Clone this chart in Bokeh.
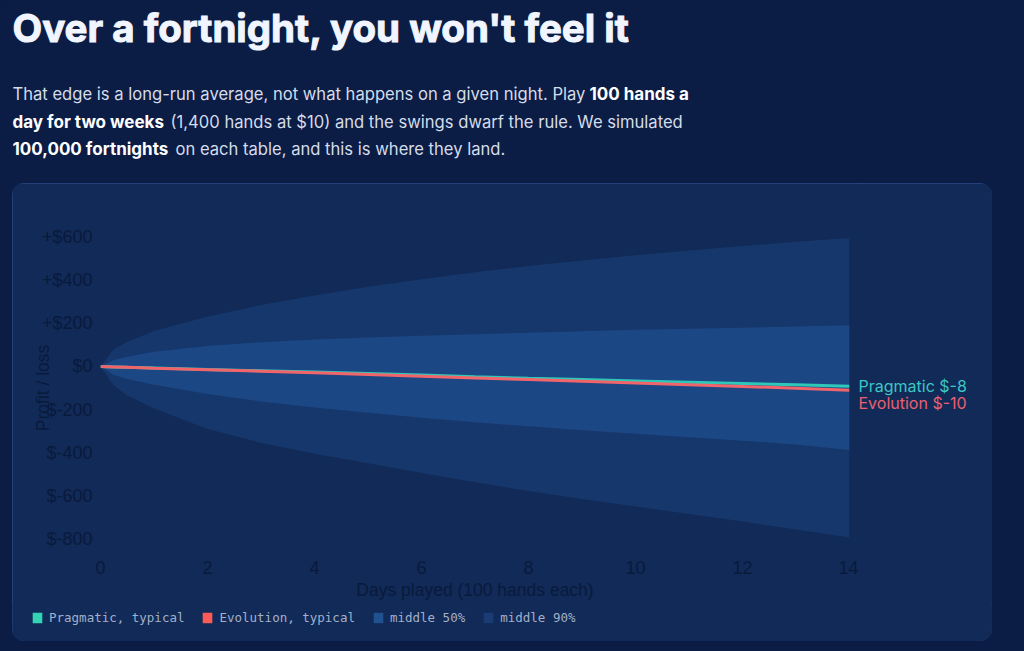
import numpy as np
from bokeh.plotting import figure
from bokeh.models import Range1d, Legend, LegendItem, FixedTicker, ColumnDataSource, Spacer
from bokeh.layouts import column, row
from bokeh.embed import file_html
from bokeh.resources import INLINE
from bokeh.core.properties import value

# ---------------- data ----------------
days = [0, 0.25, 0.5, 1, 2, 3, 4, 5, 6, 7, 8, 9, 10, 11, 12, 13, 14]
upper90 = [0, 80, 115, 165, 232, 285, 330, 370, 405, 438, 466, 492, 516, 538, 559, 579, 597]
upper50 = [0, 30, 45, 68, 95, 113, 125, 135, 143, 150, 157, 163, 170, 175, 180, 186, 191]
lower50 = [0, -40, -58, -85, -128, -163, -190, -215, -238, -259, -278, -296, -313, -329, -345, -362, -388]
lower90 = [0, -90, -135, -195, -290, -355, -405, -450, -495, -538, -578, -615, -650, -685, -720, -757, -794]
pragmatic = [0, -2, -4, -7, -14, -20, -26, -33, -40, -48, -55, -61, -67, -73, -79, -85, -92]
evolution = [0, -2, -4, -8, -15, -22, -29, -37, -45, -53, -61, -69, -77, -85, -93, -101, -110]

end_labels = ["Pragmatic $-8", "Evolution $-10"]
legend_labels = ["Pragmatic, typical", "Evolution, typical", "middle 50%", "middle 90%"]
x_ticks = [0, 2, 4, 6, 8, 10, 12, 14]
y_ticks = [-800, -600, -400, -200, 0, 200, 400, 600]
y_tick_labels = ["$-800", "$-600", "$-400", "$-200", "$0", "+$200", "+$400", "+$600"]

title_text = "Over a fortnight, you won't feel it"
sub_segments = [
    ("That edge is a long-run average, not what happens on a given night. Play", False),
    ("100 hands a", True),
    ("day for two weeks", True),
    ("(1,400 hands at $10) and the swings dwarf the rule. We simulated", False),
    ("100,000 fortnights", True),
    ("on each table, and this is where they land.", False),
]

# ---------------- style ----------------
PAGE_BG = "#0b1d45"
CARD_BG = "#112a57"
BAND90 = "#16376b"
BAND50 = "#1c4785"
SW90 = "#1b3c72"
SW50 = "#20528f"
TEAL = "#2ec8b8"
RED = "#f0646a"
TEAL_SW = "#34d3b4"
RED_SW = "#fa5a58"
AXIS_TXT = "#0a1a3c"

# ---------------- header (page pixel coordinates) ----------------
hdr = figure(width=1024, height=183, x_range=Range1d(0, 1024), y_range=Range1d(183, 0),
             output_backend="svg", toolbar_location=None, min_border=0,
             x_axis_location=None, y_axis_location=None)
hdr.grid.visible = False
hdr.outline_line_color = None
hdr.background_fill_color = PAGE_BG
hdr.border_fill_color = PAGE_BG

t = hdr.text(x=[12], y=[27], text=[title_text], text_font=value("Inter"), text_font_style="bold",
             text_font_size="38.5px", text_color="#f1f5ff", text_baseline="middle")
if "text_outline_color" in t.glyph.properties():
    t.glyph.text_outline_color = "#f1f5ff"

seg_x = [12, 589, 12, 170, 12, 175]
seg_y = [93, 93, 121, 121, 148, 148]
for (txt, bold), sx, sy in zip(sub_segments, seg_x, seg_y):
    hdr.text(x=[sx], y=[sy], text=[txt], text_font=value("Inter"),
             text_font_style="bold" if bold else "normal",
             text_font_size="17px" if bold else "16.6px",
             text_color="#ffffff" if bold else "#d5dcea",
             text_baseline="middle")

# ---------------- chart ----------------
yr = Range1d(-850, 650)
p = figure(width=846, height=420, x_range=Range1d(0, 14), y_range=yr,
           output_backend="svg", toolbar_location=None,
           min_border_left=88, min_border_right=9, min_border_top=43, min_border_bottom=54)
p.background_fill_color = CARD_BG
p.border_fill_color = CARD_BG
p.outline_line_color = None
p.grid.visible = False

src = ColumnDataSource(dict(days=days, upper90=upper90, lower90=lower90, upper50=upper50,
                            lower50=lower50, pragmatic=pragmatic, evolution=evolution))

p.varea(x="days", y1="lower90", y2="upper90", source=src, fill_color=BAND90)
p.varea(x="days", y1="lower50", y2="upper50", source=src, fill_color=BAND50)
p.line(x="days", y="pragmatic", source=src, line_color=TEAL, line_width=3)
p.line(x="days", y="evolution", source=src, line_color=RED, line_width=3)

for ax in (p.xaxis[0], p.yaxis[0]):
    ax.axis_line_color = None
    ax.major_tick_line_color = None
    ax.minor_tick_line_color = None
    ax.major_tick_out = 0
    ax.major_tick_in = 0
    ax.major_label_text_color = AXIS_TXT
    ax.major_label_text_font = "Liberation Sans"
    ax.major_label_text_font_size = "18px"
    ax.axis_label_text_color = AXIS_TXT
    ax.axis_label_text_font = "Liberation Sans"
    ax.axis_label_text_font_size = "17.5px"
    ax.axis_label_text_font_style = "normal"

p.xaxis.ticker = FixedTicker(ticks=x_ticks)
p.xaxis.axis_label = "Days played (100 hands each)"
p.xaxis.major_label_standoff = 11
p.xaxis.axis_label_standoff = 3

p.yaxis.ticker = FixedTicker(ticks=y_ticks)
p.yaxis.major_label_overrides = {float(t): s for t, s in zip(y_ticks, y_tick_labels)}
p.yaxis.axis_label = "Profit / loss"
p.yaxis.major_label_standoff = 8
p.yaxis.axis_label_standoff = -14

# ---------------- end labels (same y scale as the chart) ----------------
lab = figure(width=134, height=420, x_range=Range1d(0, 134), y_range=yr,
             output_backend="svg", toolbar_location=None,
             min_border_left=0, min_border_right=0, min_border_top=43, min_border_bottom=54,
             x_axis_location=None, y_axis_location=None)
lab.grid.visible = False
lab.outline_line_color = None
lab.background_fill_color = CARD_BG
lab.border_fill_color = CARD_BG
lab.text(x=[0], y=[pragmatic[-1]], x_offset=0, text=[end_labels[0]], text_font=value("Inter"),
         text_font_size="16px", text_color="#3cc6c4", text_baseline="middle")
lab.text(x=[0], y=[evolution[-1]], x_offset=0, y_offset=13, text=[end_labels[1]],
         text_font=value("Inter"), text_font_size="16px", text_color="#ea6070",
         text_baseline="middle")

# ---------------- legend strip ----------------
leg = figure(width=980, height=38, x_range=Range1d(0, 1), y_range=Range1d(0, 1),
             output_backend="svg", toolbar_location=None, min_border=0,
             x_axis_location=None, y_axis_location=None)
leg.grid.visible = False
leg.outline_line_color = None
leg.background_fill_color = CARD_BG
leg.border_fill_color = CARD_BG
# swatch-only renderers (no drawn mark: coordinates are NaN)
nan_src = ColumnDataSource(dict(left=np.array([np.nan]), right=np.array([np.nan]),
                                top=np.array([np.nan]), bottom=np.array([np.nan])))
sw = [leg.quad(left="left", right="right", top="top", bottom="bottom", source=nan_src,
               fill_color=c, line_color=None) for c in (TEAL_SW, RED_SW, SW50, SW90)]
legend = Legend(items=[LegendItem(label=l, renderers=[r]) for l, r in zip(legend_labels, sw)],
                orientation="horizontal", location=(19, 16),
                glyph_width=12, glyph_height=13, label_standoff=6, spacing=17,
                padding=0, margin=0, border_line_color=None, background_fill_alpha=0,
                label_text_font="DejaVu Sans Mono", label_text_font_size="12.5px",
                label_text_color="#a3b0c9", label_height=13)
leg.add_layout(legend)

card = column(row(p, lab, spacing=0), leg, spacing=0)
card.styles = {"border-radius": "12px", "overflow": "hidden", "background": CARD_BG,
               "outline": "1px solid #2a4a80", "outline-offset": "-1px"}

layout = column(hdr, row(Spacer(width=12), card, spacing=0), spacing=0)
html = file_html(layout, INLINE, title="Over a fortnight")
html = html.replace("</head>", "<style>html,body{background:%s;}</style></head>" % PAGE_BG, 1)
open("out.html", "w").write(html)
